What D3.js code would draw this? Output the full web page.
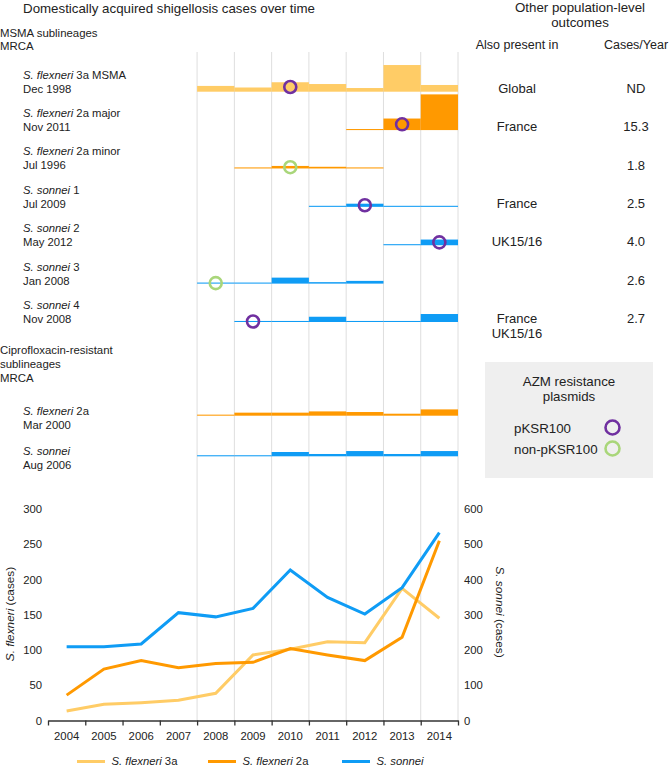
<!DOCTYPE html>
<html>
<head>
<meta charset="utf-8">
<script src="https://cdn.jsdelivr.net/npm/d3@7"></script>
<style>
  html, body { margin: 0; padding: 0; background: #fff; }
  svg { display: block; font-family: "Liberation Sans", Arial, Helvetica, sans-serif; }
  text { fill: #222; }
</style>
</head>
<body>
<svg id="chart" width="670" height="769"></svg>
<script>
// ---------- DATA ----------
const years = [2004, 2005, 2006, 2007, 2008, 2009, 2010, 2011, 2012, 2013, 2014];
const flexneri3a = [13.5, 23, 25.3, 28.6, 38.6, 92.9, 101, 111.8, 110.4, 187.5, 145];
const flexneri2a = [36, 73, 85, 75, 81, 82.5, 102, 93, 85, 118, 255];
const sonneiCases = [209, 209, 217, 306, 294, 318, 427, 349, 302, 377, 533];
const leftTicks = [0, 50, 100, 150, 200, 250, 300];
const rightTicks = [0, 100, 200, 300, 400, 500, 600];

const barYears = [2008, 2009, 2010, 2011, 2012, 2013, 2014];

// MSMA sublineages
const msmaSpecies = ["S. flexneri", "S. flexneri", "S. flexneri", "S. sonnei", "S. sonnei", "S. sonnei", "S. sonnei"];
const msmaSuffix = [" 3a MSMA", " 2a major", " 2a minor", " 1", " 2", " 3", " 4"];
const msmaMRCA = ["Dec 1998", "Nov 2011", "Jul 1996", "Jul 2009", "May 2012", "Jan 2008", "Nov 2008"];
const msmaGroup = ["3a", "2a", "2a", "sonnei", "sonnei", "sonnei", "sonnei"];
const msmaAlso = [["Global"], ["France"], [], ["France"], ["UK15/16"], [], ["France", "UK15/16"]];
const msmaCasesYear = ["ND", "15.3", "1.8", "2.5", "4.0", "2.6", "2.7"];
const msmaBars = [
  [5.5, 4, 9, 7.3, 3.5, 25.4, 6.4],
  [null, null, null, null, 1, 11, 34],
  [null, 1, 2.4, 1.6, 1, null, null],
  [null, null, null, 1, 3, 1, 1],
  [null, null, null, null, null, 1, 5.4],
  [1, 1, 5.7, 1.4, 2.6, null, null],
  [null, 1, 1, 5, 1, 1, 7.6]
];

// Ciprofloxacin-resistant sublineages
const ciproSpecies = ["S. flexneri", "S. sonnei"];
const ciproSuffix = [" 2a", ""];
const ciproMRCA = ["Mar 2000", "Aug 2006"];
const ciproGroup = ["2a", "sonnei"];
const ciproBars = [
  [1, 2.9, 2.9, 4.1, 3.5, 1.9, 6],
  [1, 1, 4.1, 2.2, 5, 2.2, 5]
];

// AZM resistance plasmid markers
const plasmidRow = [0, 1, 2, 3, 4, 5, 6];
const plasmidYear = [2010, 2013, 2010, 2012, 2014, 2008, 2009];
const plasmidType = ["pKSR100", "pKSR100", "non-pKSR100", "pKSR100", "pKSR100", "non-pKSR100", "pKSR100"];
const plasmidTypes = ["pKSR100", "non-pKSR100"];

// ---------- STYLE ----------
const colors = { "3a": "#ffcc66", "2a": "#ff9900", "sonnei": "#0f9cf5" };
const plasmidColor = { "pKSR100": "#7030a0", "non-pKSR100": "#a9d67a" };

const svg = d3.select("#chart");

// ---------- SCALES ----------
const x = d3.scaleLinear().domain([2004, 2015]).range([48, 458]);
const yLeft = d3.scaleLinear().domain([0, 300]).range([720.5, 509]);
const yRight = d3.scaleLinear().domain([0, 600]).range([720.5, 509]);
const barH = d3.scaleLinear().domain([0, 1]).range([0, 1.05]);
const msmaBase = d3.scalePoint().domain(d3.range(7)).range([91.7, 322]);
const ciproBase = d3.scalePoint().domain(d3.range(2)).range([415.7, 456.3]);

// ---------- GRIDLINES ----------
svg.append("g").selectAll("line")
  .data(d3.range(2008, 2016))
  .join("line")
  .attr("x1", d => x(d)).attr("x2", d => x(d))
  .attr("y1", 52).attr("y2", 720.5)
  .attr("stroke", "#dedede").attr("stroke-width", 1);

// ---------- TITLES ----------
svg.append("text").attr("x", 169).attr("y", 8).attr("dy", "0.35em")
  .attr("text-anchor", "middle").style("font-size", "13.3px")
  .text("Domestically acquired shigellosis cases over time");
svg.append("text").attr("x", 580).attr("y", 7).attr("dy", "0.35em")
  .attr("text-anchor", "middle").style("font-size", "13.3px")
  .text("Other population-level");
svg.append("text").attr("x", 580).attr("y", 22).attr("dy", "0.35em")
  .attr("text-anchor", "middle").style("font-size", "13.3px")
  .text("outcomes");
svg.append("text").attr("x", 517).attr("y", 45).attr("dy", "0.35em")
  .attr("text-anchor", "middle").style("font-size", "12.5px")
  .text("Also present in");
svg.append("text").attr("x", 636).attr("y", 45).attr("dy", "0.35em")
  .attr("text-anchor", "middle").style("font-size", "12.5px")
  .text("Cases/Year");

function groupHeader(lines, y0) {
  lines.forEach((t, i) => {
    svg.append("text").attr("x", 0).attr("y", y0 + i * 13.8).attr("dy", "0.35em")
      .style("font-size", "11.4px").text(t);
  });
}
groupHeader(["MSMA sublineages", "MRCA"], 32.7);
groupHeader(["Ciprofloxacin-resistant", "sublineages", "MRCA"], 350);

// ---------- ROW LABELS ----------
function rowLabel(species, suffix, date, yTop) {
  const t = svg.append("text").attr("x", 23).attr("y", yTop).attr("dy", "0.35em")
    .style("font-size", "11.3px");
  t.append("tspan").style("font-style", "italic").text(species);
  if (suffix) t.append("tspan").text(suffix);
  svg.append("text").attr("x", 23).attr("y", yTop + 14).attr("dy", "0.35em")
    .style("font-size", "11.3px").text(date);
}
msmaSpecies.forEach((s, i) => rowLabel(s, msmaSuffix[i], msmaMRCA[i], msmaBase(i) - 17));
ciproSpecies.forEach((s, i) => rowLabel(s, ciproSuffix[i], ciproMRCA[i], ciproBase(i) - 5));

// right columns
msmaAlso.forEach((arr, i) => {
  arr.forEach((t, j) => {
    svg.append("text").attr("x", 517).attr("y", msmaBase(i) - 3.5 + j * 15).attr("dy", "0.35em")
      .attr("text-anchor", "middle").style("font-size", "13px").text(t);
  });
  svg.append("text").attr("x", 636).attr("y", msmaBase(i) - 3.5).attr("dy", "0.35em")
    .attr("text-anchor", "middle").style("font-size", "13px").text(msmaCasesYear[i]);
});

// ---------- STEP BARS ----------
function drawBars(rows, groups, baseScale) {
  rows.forEach((vals, i) => {
    const data = vals.map((v, k) => ({ v, year: barYears[k] })).filter(d => d.v !== null);
    svg.append("g").selectAll("rect").data(data).join("rect")
      .attr("x", d => x(d.year))
      .attr("width", d => x(d.year + 1) - x(d.year))
      .attr("y", d => baseScale(i) - barH(d.v))
      .attr("height", d => barH(d.v))
      .attr("fill", colors[groups[i]]);
  });
}
drawBars(msmaBars, msmaGroup, msmaBase);
drawBars(ciproBars, ciproGroup, ciproBase);

// ---------- PLASMID CIRCLES ----------
svg.append("g").selectAll("circle")
  .data(plasmidRow.map((r, i) => ({ r, year: plasmidYear[i], type: plasmidType[i] })))
  .join("circle")
  .attr("cx", d => x(d.year + 0.5))
  .attr("cy", d => {
    const v = msmaBars[d.r][barYears.indexOf(d.year)] || 0;
    return msmaBase(d.r) - barH(v) / 2;
  })
  .attr("r", 6)
  .attr("fill", "none")
  .attr("stroke", d => plasmidColor[d.type])
  .attr("stroke-width", 2.6);

// ---------- PLASMID LEGEND ----------
const lg = svg.append("g");
lg.append("rect").attr("x", 485).attr("y", 362).attr("width", 168).attr("height", 116)
  .attr("fill", "#efefef");
lg.append("text").attr("x", 569).attr("y", 381).attr("dy", "0.35em").attr("text-anchor", "middle")
  .style("font-size", "13.3px").text("AZM resistance");
lg.append("text").attr("x", 569).attr("y", 396).attr("dy", "0.35em").attr("text-anchor", "middle")
  .style("font-size", "13.3px").text("plasmids");
plasmidTypes.forEach((t, i) => {
  lg.append("text").attr("x", 514).attr("y", 428 + i * 21).attr("dy", "0.35em")
    .style("font-size", "13.3px").text(t);
  lg.append("circle").attr("cx", 612.5).attr("cy", 427.5 + i * 21).attr("r", 7)
    .attr("fill", "none").attr("stroke", plasmidColor[t]).attr("stroke-width", 2.6);
});

// ---------- LINE CHART ----------
const series = [
  { name: "3a", label: " 3a", values: flexneri3a, scale: yLeft, color: colors["3a"] },
  { name: "2a", label: " 2a", values: flexneri2a, scale: yLeft, color: colors["2a"] },
  { name: "sonnei", label: "", values: sonneiCases, scale: yRight, color: colors["sonnei"] }
];
series.forEach(s => {
  const line = d3.line().x((d, i) => x(years[i] + 0.5)).y(d => s.scale(d));
  svg.append("path").datum(s.values).attr("d", line)
    .attr("fill", "none").attr("stroke", s.color).attr("stroke-width", 3)
    .attr("stroke-linejoin", "miter");
});

// x axis
const xAxis = d3.axisBottom(x).tickValues(d3.range(2004, 2016)).tickFormat("").tickSize(5).tickSizeOuter(0);
const gx = svg.append("g").attr("transform", "translate(0,720.5)").call(xAxis);
gx.select(".domain").attr("stroke", "#333").attr("stroke-width", 1.3);
gx.selectAll(".tick line").attr("stroke", "#333").attr("stroke-width", 1.3);
svg.append("g").selectAll("text").data(years).join("text")
  .attr("x", d => x(d + 0.5)).attr("y", 736).attr("dy", "0.35em")
  .attr("text-anchor", "middle").style("font-size", "11.3px").text(d => d);

// left axis labels
const gl = svg.append("g").attr("transform", "translate(48,0)")
  .call(d3.axisLeft(yLeft).tickValues(leftTicks).tickSize(0).tickPadding(6));
gl.select(".domain").remove();
gl.selectAll("text").style("font-size", "11.3px").style("font-family", "inherit").attr("fill", "#222");

// right axis labels
const gr = svg.append("g").attr("transform", "translate(458,0)")
  .call(d3.axisRight(yRight).tickValues(rightTicks).tickSize(0).tickPadding(6));
gr.select(".domain").remove();
gr.selectAll("text").style("font-size", "11.3px").style("font-family", "inherit").attr("fill", "#222");

// axis titles
const lt = svg.append("text").attr("transform", "translate(10,614) rotate(-90)")
  .attr("text-anchor", "middle").attr("dy", "0.35em").style("font-size", "11.8px");
lt.append("tspan").style("font-style", "italic").text("S. flexneri");
lt.append("tspan").text(" (cases)");
const rt = svg.append("text").attr("transform", "translate(500,612) rotate(90)")
  .attr("text-anchor", "middle").attr("dy", "0.35em").style("font-size", "11.8px");
rt.append("tspan").style("font-style", "italic").text("S. sonnei");
rt.append("tspan").text(" (cases)");

// bottom legend
const legX = [77, 208, 342];
series.forEach((s, i) => {
  svg.append("line").attr("x1", legX[i]).attr("x2", legX[i] + 28)
    .attr("y1", 761.5).attr("y2", 761.5).attr("stroke", s.color).attr("stroke-width", 3);
  const t = svg.append("text").attr("x", legX[i] + 34.5).attr("y", 761.5).attr("dy", "0.35em")
    .style("font-size", "11.3px");
  t.append("tspan").style("font-style", "italic").text(s.name === "sonnei" ? "S. sonnei" : "S. flexneri");
  if (s.label) t.append("tspan").text(s.label);
});
</script>
</body>
</html>
